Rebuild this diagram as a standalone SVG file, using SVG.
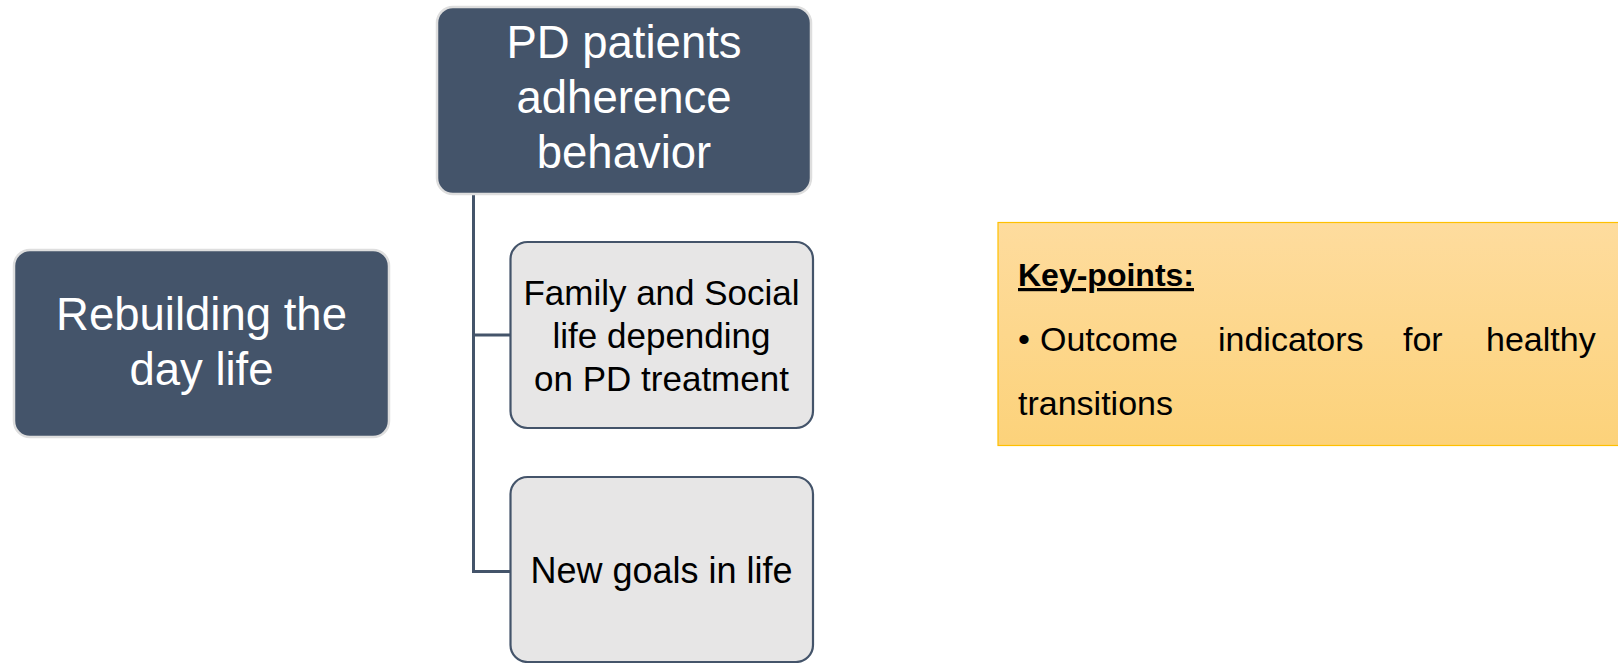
<svg xmlns="http://www.w3.org/2000/svg" width="1618" height="663" viewBox="0 0 1618 663">
<defs>
<linearGradient id="gold" x1="0" y1="0" x2="0" y2="1">
<stop offset="0" stop-color="#fedc9e"/>
<stop offset="1" stop-color="#fcd27a"/>
</linearGradient>
<style>
.dark{fill:#44546a;stroke:#dedede;stroke-width:2.5}
.light{fill:#e7e6e6;stroke:#44546a;stroke-width:2.2}
.wt{font-family:"Liberation Sans",Arial,sans-serif;font-size:45.5px;fill:#ffffff;text-anchor:middle}
.bt{font-family:"Liberation Sans",Arial,sans-serif;font-size:35px;fill:#000000;text-anchor:middle}
.kt{font-family:"Liberation Sans",Arial,sans-serif;font-size:34px;fill:#000000}
.kh{font-family:"Liberation Sans",Arial,sans-serif;font-size:32px;font-weight:bold;text-decoration:underline;fill:#000000}
.conn{fill:none;stroke:#44546a;stroke-width:3}
</style>
</defs>
<rect width="1618" height="663" fill="#ffffff"/>
<g id="connectors">
<path class="conn" d="M473.5,194 V571.5 H510"/>
<path class="conn" d="M473.5,335 H510"/>
</g>
<g id="node-adherence">
<rect class="dark" x="437" y="7" width="374" height="187" rx="16"/>
<text class="wt" x="624" y="58">PD patients</text>
<text class="wt" x="624" y="113">adherence</text>
<text class="wt" x="624" y="168">behavior</text>
</g>
<g id="node-rebuilding">
<rect class="dark" x="14" y="250" width="375" height="187" rx="16"/>
<text class="wt" x="201.5" y="330">Rebuilding the</text>
<text class="wt" x="201.5" y="385">day life</text>
</g>
<g id="node-family">
<rect class="light" x="510.5" y="242" width="302.5" height="186" rx="17"/>
<text class="bt" x="661.5" y="305">Family and Social</text>
<text class="bt" x="661.5" y="348">life depending</text>
<text class="bt" x="661.5" y="391">on PD treatment</text>
</g>
<g id="node-goals">
<rect class="light" x="510.5" y="477" width="302.5" height="185" rx="17"/>
<text class="bt" x="661.5" y="583" style="font-size:36px">New goals in life</text>
</g>
<g id="keypoints">
<rect x="998" y="222.5" width="630" height="223" fill="url(#gold)" stroke="#ffc000" stroke-width="1.2"/>
<text class="kh" x="1018" y="286">Key-points:</text>
<text class="kt" x="1018" y="351">•</text>
<text class="kt" x="1040" y="351">Outcome</text>
<text class="kt" x="1218" y="351">indicators</text>
<text class="kt" x="1403" y="351">for</text>
<text class="kt" x="1486" y="351">healthy</text>
<text class="kt" x="1018" y="415">transitions</text>
</g>
</svg>
